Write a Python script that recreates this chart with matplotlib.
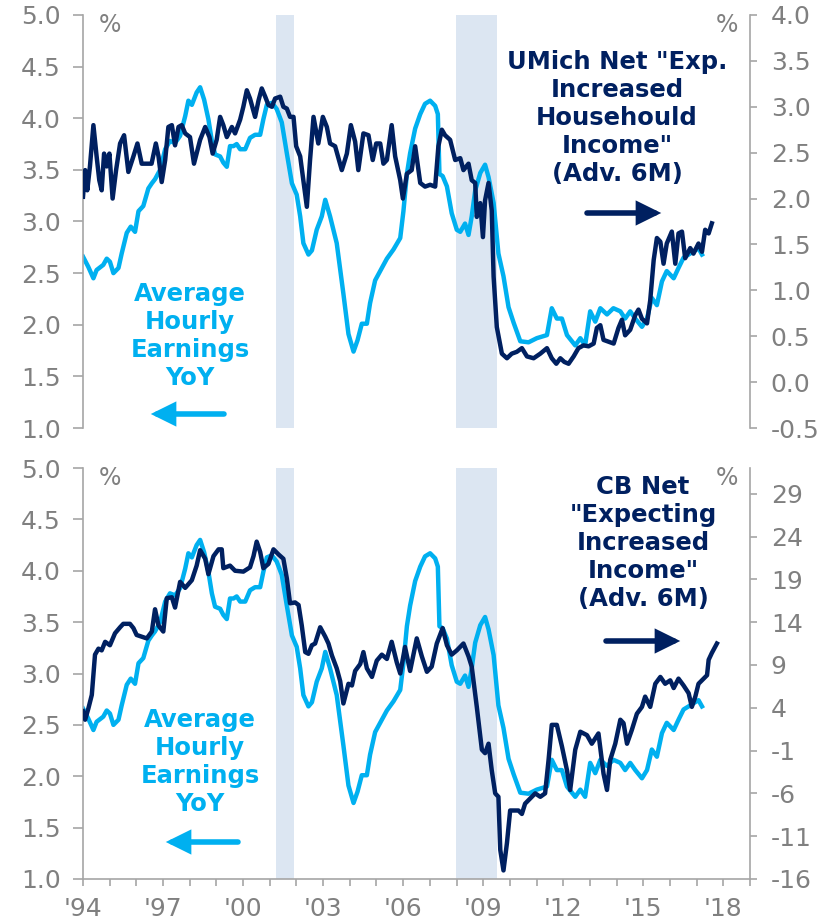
import matplotlib
matplotlib.use("Agg")
import matplotlib.pyplot as plt
import numpy as np

# ---------------- data ----------------
ahe_t = [1994.0, 1994.2, 1994.39, 1994.51, 1994.76, 1994.89, 1995.01, 1995.14, 1995.33, 1995.45,
         1995.64, 1995.79, 1995.95, 1996.08, 1996.26, 1996.45, 1996.58, 1996.7, 1996.89, 1997.08,
         1997.26, 1997.45, 1997.64, 1997.83, 1997.95, 1998.08, 1998.26, 1998.39, 1998.54, 1998.7,
         1998.83, 1998.95, 1999.14, 1999.26, 1999.39, 1999.51, 1999.64, 1999.76, 1999.89, 2000.08,
         2000.26, 2000.45, 2000.64, 2000.76, 2000.89, 2001.08, 2001.26, 2001.45, 2001.64, 2001.83,
         2002.01, 2002.14, 2002.26, 2002.45, 2002.58, 2002.76, 2002.95, 2003.08, 2003.26, 2003.51,
         2003.76, 2003.95, 2004.14, 2004.29, 2004.45, 2004.64, 2004.76, 2004.95, 2005.2, 2005.39,
         2005.64, 2005.89, 2006.01, 2006.14, 2006.26, 2006.45, 2006.64, 2006.82, 2007.01, 2007.2,
         2007.3, 2007.36, 2007.48, 2007.64, 2007.82, 2008.01, 2008.14, 2008.32, 2008.45, 2008.57,
         2008.7, 2008.89, 2009.07, 2009.2, 2009.39, 2009.57, 2009.76, 2009.95, 2010.14, 2010.39,
         2010.7, 2011.01, 2011.39, 2011.57, 2011.76, 2011.95, 2012.14, 2012.45, 2012.64, 2012.82,
         2013.01, 2013.2, 2013.39, 2013.64, 2013.88, 2014.14, 2014.32, 2014.51, 2014.7, 2014.95,
         2015.14, 2015.32, 2015.51, 2015.7, 2015.88, 2016.14, 2016.32, 2016.51, 2016.7, 2016.88,
         2017.07, 2017.2]
ahe_v = [2.66, 2.56, 2.45, 2.53, 2.58, 2.64, 2.61, 2.50, 2.55, 2.69,
         2.89, 2.95, 2.90, 3.10, 3.15, 3.32, 3.37, 3.41, 3.50, 3.70,
         3.78, 3.76, 3.83, 4.02, 4.17, 4.13, 4.25, 4.30, 4.18, 3.99,
         3.78, 3.65, 3.63, 3.57, 3.53, 3.73, 3.73, 3.75, 3.70, 3.70,
         3.81, 3.84, 3.84, 3.99, 4.13, 4.15, 4.09, 3.96, 3.66, 3.37,
         3.26, 3.05, 2.79, 2.68, 2.72, 2.92, 3.05, 3.21, 3.05, 2.79,
         2.30, 1.91, 1.74, 1.85, 2.01, 2.01, 2.21, 2.43, 2.55, 2.64,
         2.73, 2.84, 3.10, 3.46, 3.66, 3.90, 4.04, 4.14, 4.17, 4.12,
         4.04, 3.46, 3.44, 3.34, 3.08, 2.92, 2.90, 2.98, 2.87, 3.05,
         3.30, 3.47, 3.55, 3.43, 3.18, 2.69, 2.47, 2.17, 2.02, 1.84,
         1.83, 1.87, 1.90, 2.16, 2.06, 2.06, 1.90, 1.80, 1.87, 1.80,
         2.13, 2.03, 2.16, 2.10, 2.16, 2.13, 2.06, 2.13, 2.06, 1.98,
         2.06, 2.26, 2.19, 2.42, 2.52, 2.45, 2.55, 2.65, 2.68, 2.71,
         2.74, 2.68]

umich_t = [1994.0, 1994.08, 1994.16, 1994.26, 1994.39, 1994.51, 1994.61, 1994.7, 1994.79, 1994.89,
           1994.99, 1995.11, 1995.24, 1995.39, 1995.54, 1995.7, 1995.89, 1996.04, 1996.2, 1996.39,
           1996.57, 1996.73, 1996.83, 1996.95, 1997.08, 1997.2, 1997.33, 1997.45, 1997.58, 1997.7,
           1997.83, 1998.01, 1998.16, 1998.39, 1998.58, 1998.74, 1998.86, 1999.01, 1999.14, 1999.26,
           1999.39, 1999.58, 1999.7, 1999.89, 2000.01, 2000.14, 2000.26, 2000.45, 2000.58, 2000.7,
           2000.83, 2000.95, 2001.08, 2001.2, 2001.39, 2001.51, 2001.64, 2001.76, 2001.89, 2001.99,
           2002.14, 2002.26, 2002.39, 2002.51, 2002.64, 2002.82, 2002.99, 2003.14, 2003.26, 2003.45,
           2003.7, 2003.89, 2004.04, 2004.2, 2004.32, 2004.51, 2004.7, 2004.86, 2004.99, 2005.14,
           2005.26, 2005.39, 2005.57, 2005.7, 2005.89, 2005.99, 2006.14, 2006.32, 2006.45, 2006.64,
           2006.82, 2007.01, 2007.2, 2007.32, 2007.45, 2007.57, 2007.76, 2007.95, 2008.14, 2008.26,
           2008.45, 2008.57, 2008.7, 2008.76, 2008.89, 2008.99, 2009.07, 2009.2, 2009.32, 2009.39,
           2009.51, 2009.7, 2009.89, 2010.07, 2010.26, 2010.45, 2010.64, 2010.89, 2011.14, 2011.39,
           2011.57, 2011.74, 2011.89, 2012.04, 2012.2, 2012.39, 2012.57, 2012.76, 2012.95, 2013.14,
           2013.26, 2013.39, 2013.51, 2013.7, 2013.89, 2014.07, 2014.2, 2014.32, 2014.51, 2014.7,
           2014.82, 2014.95, 2015.14, 2015.26, 2015.39, 2015.51, 2015.64, 2015.76, 2015.88, 2016.07,
           2016.2, 2016.32, 2016.45, 2016.57, 2016.76, 2016.88, 2017.07, 2017.2, 2017.32, 2017.45,
           2017.57]
umich_v = [2.02, 2.31, 2.09, 2.35, 2.80, 2.46, 2.20, 2.09, 2.49, 2.35,
           2.49, 2.00, 2.31, 2.60, 2.69, 2.29, 2.46, 2.60, 2.38, 2.38,
           2.38, 2.60, 2.46, 2.18, 2.42, 2.78, 2.80, 2.58, 2.78, 2.80,
           2.71, 2.67, 2.38, 2.64, 2.78, 2.67, 2.49, 2.64, 2.89, 2.80,
           2.67, 2.78, 2.71, 2.86, 3.00, 3.18, 3.09, 2.89, 3.07, 3.20,
           3.11, 3.02, 3.00, 3.09, 3.11, 3.00, 2.98, 2.89, 2.89, 2.57,
           2.46, 2.20, 1.91, 2.42, 2.89, 2.60, 2.89, 2.78, 2.60, 2.57,
           2.31, 2.49, 2.80, 2.62, 2.31, 2.71, 2.69, 2.42, 2.60, 2.60,
           2.38, 2.42, 2.80, 2.46, 2.20, 2.00, 2.27, 2.31, 2.57, 2.17,
           2.13, 2.15, 2.13, 2.57, 2.75, 2.69, 2.64, 2.42, 2.44, 2.31,
           2.38, 2.20, 2.17, 1.80, 1.95, 1.58, 1.98, 2.17, 1.87, 1.15,
           0.60, 0.31, 0.26, 0.31, 0.33, 0.37, 0.28, 0.26, 0.31, 0.37,
           0.26, 0.20, 0.26, 0.22, 0.20, 0.28, 0.37, 0.40, 0.39, 0.42,
           0.59, 0.62, 0.46, 0.44, 0.42, 0.59, 0.68, 0.51, 0.57, 0.73,
           0.79, 0.69, 0.64, 0.89, 1.33, 1.57, 1.53, 1.29, 1.51, 1.64,
           1.29, 1.62, 1.64, 1.35, 1.46, 1.40, 1.51, 1.42, 1.66, 1.62,
           1.73]

cb_t = [1994.0, 1994.08, 1994.2, 1994.33, 1994.45, 1994.58, 1994.7, 1994.83, 1995.01, 1995.2,
        1995.39, 1995.51, 1995.76, 1995.89, 1996.01, 1996.2, 1996.39, 1996.58, 1996.7, 1996.83,
        1997.01, 1997.14, 1997.33, 1997.45, 1997.64, 1997.83, 1998.08, 1998.26, 1998.39, 1998.58,
        1998.7, 1998.89, 1999.08, 1999.2, 1999.26, 1999.51, 1999.7, 2000.01, 2000.26, 2000.39,
        2000.51, 2000.64, 2000.76, 2000.95, 2001.14, 2001.33, 2001.51, 2001.64, 2001.76, 2001.95,
        2002.08, 2002.2, 2002.33, 2002.45, 2002.58, 2002.7, 2002.89, 2003.08, 2003.2, 2003.33,
        2003.51, 2003.64, 2003.76, 2003.95, 2004.08, 2004.2, 2004.39, 2004.51, 2004.64, 2004.83,
        2005.01, 2005.2, 2005.39, 2005.57, 2005.76, 2005.89, 2006.07, 2006.26, 2006.51, 2006.7,
        2006.89, 2007.07, 2007.26, 2007.48, 2007.64, 2007.82, 2008.01, 2008.26, 2008.45, 2008.57,
        2008.76, 2008.95, 2009.07, 2009.2, 2009.32, 2009.45, 2009.57, 2009.64, 2009.76, 2009.89,
        2010.01, 2010.32, 2010.45, 2010.57, 2010.76, 2010.95, 2011.14, 2011.32, 2011.45, 2011.57,
        2011.76, 2011.95, 2012.14, 2012.26, 2012.45, 2012.64, 2012.89, 2013.07, 2013.32, 2013.51,
        2013.64, 2013.76, 2013.95, 2014.14, 2014.26, 2014.39, 2014.57, 2014.76, 2014.95, 2015.07,
        2015.26, 2015.45, 2015.64, 2015.82, 2016.01, 2016.14, 2016.32, 2016.51, 2016.7, 2016.82,
        2016.95, 2017.07, 2017.26, 2017.39, 2017.45, 2017.57, 2017.76]
cb_v = [3.6, 2.6, 3.9, 5.5, 10.2, 10.9, 10.7, 11.7, 11.3, 12.7,
        13.4, 13.8, 13.8, 13.3, 12.5, 12.3, 12.1, 12.9, 15.5, 13.6,
        12.9, 16.8, 16.9, 15.7, 18.7, 18.0, 18.9, 20.6, 22.4, 21.4,
        19.6, 21.7, 22.5, 22.5, 20.3, 20.6, 20.0, 19.9, 20.4, 21.7,
        23.4, 22.2, 20.3, 20.8, 22.5, 21.9, 21.4, 19.1, 16.2, 16.3,
        16.0, 13.6, 10.5, 10.3, 11.3, 11.5, 13.4, 12.3, 11.5, 10.1,
        8.6, 7.1, 4.5, 6.8, 6.6, 8.3, 9.1, 10.5, 8.6, 7.6,
        9.5, 10.2, 9.7, 11.7, 9.3, 8.0, 11.1, 8.3, 12.1, 10.0,
        8.2, 8.8, 11.5, 13.3, 11.3, 10.2, 10.7, 11.5, 10.0, 8.8,
        4.1, -0.9, -1.3, -0.2, -3.3, -6.0, -6.4, -12.6, -15.0, -11.8,
        -8.0, -8.0, -8.4, -7.2, -6.6, -6.0, -6.4, -6.0, -2.1, 2.0,
        2.0, -0.5, -3.3, -5.6, -0.9, 1.2, 0.8, -0.2, 1.0, -3.7,
        -5.6, -2.1, -0.2, 2.6, 2.2, -0.2, 1.4, 3.3, 4.1, 5.3,
        4.1, 6.8, 7.6, 6.8, 7.2, 6.3, 7.4, 6.6, 5.7, 4.1,
        5.3, 6.8, 7.4, 7.8, 9.6, 10.4, 11.5]

recessions = [(2001.25, 2001.92), (2007.99, 2009.5)]
left_ticks = [1.0, 1.5, 2.0, 2.5, 3.0, 3.5, 4.0, 4.5, 5.0]
umich_ticks = [-0.5, 0.0, 0.5, 1.0, 1.5, 2.0, 2.5, 3.0, 3.5, 4.0]
cb_ticks = [-16, -11, -6, -1, 4, 9, 14, 19, 24, 29]
year_labels = [1994, 1997, 2000, 2003, 2006, 2009, 2012, 2015, 2018]

# ---------------- style ----------------
NAVY = "#002060"
LIGHT = "#00B0F0"
GRAY = "#808080"
SPINE = "#A6A6A6"
SHADE = "#DCE6F2"
plt.rcParams["font.family"] = ["DejaVu Sans"]

W, H = 840, 924
fig = plt.figure(figsize=(W / 100, H / 100), dpi=100)


def fx(px):
    return px / W


def fy(py):
    return 1 - py / H


def style_axis(ax, side):
    for s in ax.spines.values():
        s.set_visible(False)
    ax.spines[side].set_visible(True)
    ax.spines[side].set_color(SPINE)
    ax.spines[side].set_linewidth(1.2)


def make_panel(top_px, bot_px, right_vals, right_ticks, right_lim, right_fmt, show_x):
    ax = fig.add_axes([fx(83), fy(bot_px), fx(750 - 83), (bot_px - top_px) / H])
    ax.set_xlim(1994, 2019)
    ax.set_ylim(1.0, 5.0)
    for a, b in recessions:
        ax.axvspan(a, b, color=SHADE, lw=0, zorder=0)
    ax.plot(ahe_t, ahe_v, color=LIGHT, lw=3.2, zorder=2, solid_joinstyle="round")
    style_axis(ax, "left")
    ax.set_yticks(left_ticks)
    ax.set_yticklabels([f"{v:.1f}" for v in left_ticks])
    ax.tick_params(axis="y", direction="out", length=7, width=1.2, color=SPINE,
                   labelsize=18, labelcolor=GRAY, pad=9)
    if show_x:
        ax.spines["bottom"].set_visible(True)
        ax.spines["bottom"].set_color(SPINE)
        ax.spines["bottom"].set_linewidth(1.2)
        ax.set_xticks(year_labels)
        ax.set_xticklabels([f"'{y % 100:02d}" for y in year_labels])
        ax.set_xticks(list(range(1994, 2020)), minor=True)
        ax.tick_params(axis="x", which="both", direction="out", length=5, width=1.2,
                       color=SPINE, labelsize=18, labelcolor=GRAY, pad=8)
    else:
        ax.set_xticks([])
    axr = ax.twinx()
    axr.set_ylim(*right_lim)
    axr.plot(right_vals[0], right_vals[1], color=NAVY, lw=3.2, zorder=3, solid_joinstyle="round")
    style_axis(axr, "right")
    axr.set_yticks(right_ticks)
    axr.set_yticklabels([right_fmt(v) for v in right_ticks])
    axr.tick_params(axis="y", direction="out", length=5, width=1.2, color=SPINE,
                    labelsize=18, labelcolor=GRAY, pad=10)
    axr.set_xlim(1994, 2019)
    return ax, axr


make_panel(15, 428, (umich_t, umich_v), umich_ticks, (-0.5, 4.0), lambda v: f"{v:.1f}", False)
make_panel(468, 879, (cb_t, cb_v), cb_ticks, (-16, 32), lambda v: f"{v:d}", True)

# ---------------- annotations ----------------
for (x, y) in [(110, 25), (727, 25), (110, 478), (727, 478)]:
    fig.text(fx(x), fy(y), "%", color=GRAY, fontsize=17, ha="center", va="center")

fig.text(fx(190), fy(336), "Average\nHourly\nEarnings\nYoY", color=LIGHT, fontsize=17.5,
         fontweight="bold", ha="center", va="center", linespacing=1.2)
fig.text(fx(617), fy(118), "UMich Net \"Exp.\nIncreased\nHousehould\nIncome\"\n(Adv. 6M)",
         color=NAVY, fontsize=17.5, fontweight="bold", ha="center", va="center", linespacing=1.2)
fig.text(fx(643), fy(543), "CB Net\n\"Expecting\nIncreased\nIncome\"\n(Adv. 6M)",
         color=NAVY, fontsize=17.5, fontweight="bold", ha="center", va="center", linespacing=1.2)
fig.text(fx(200), fy(762), "Average\nHourly\nEarnings\nYoY", color=LIGHT, fontsize=17.5,
         fontweight="bold", ha="center", va="center", linespacing=1.2)


def arrow(x0, x1, y, color):
    fig.add_artist(matplotlib.patches.FancyArrowPatch(
        (fx(x0), fy(y)), (fx(x1), fy(y)), transform=fig.transFigure,
        arrowstyle="-|>,head_length=0.85,head_width=0.42", mutation_scale=14,
        lw=4.0, color=color, shrinkA=0, shrinkB=2, joinstyle="miter"))


arrow(224, 148, 414, LIGHT)
arrow(587, 664, 213, NAVY)
arrow(606, 683, 641, NAVY)
arrow(238, 163, 842, LIGHT)

fig.savefig("out.png", dpi=100)
